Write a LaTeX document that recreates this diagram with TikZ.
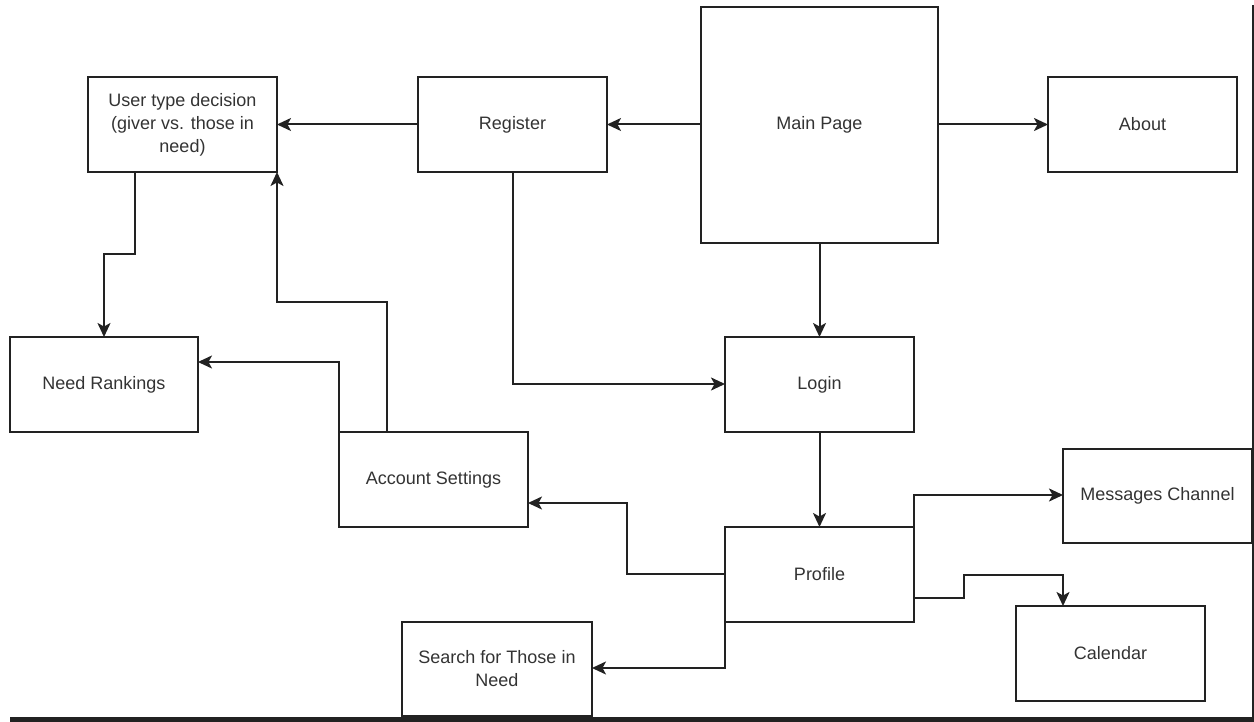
\documentclass[tikz,border=0pt]{standalone}
\usepackage{fontspec}
\setmainfont{Liberation Sans}
\usetikzlibrary{arrows.meta}
\definecolor{txt}{HTML}{333333}
\definecolor{ln}{HTML}{222222}
\begin{document}
\begin{tikzpicture}[x=1pt,y=-1pt,
  box/.style={draw=ln,line width=2pt,rectangle,inner sep=2pt,outer sep=0pt,align=center,
    font=\fontsize{18}{23}\selectfont,text=txt},
  conn/.style={draw=ln,line width=2pt,-{Stealth[length=14pt,width=13pt,inset=3.5pt]}}]
\useasboundingbox (0,0) rectangle (1254,722);
% frame details
\fill[ln] (10,716.5) rectangle (1254,722);
\draw[ln,line width=1.4pt] (1253,5) -- (1253,716.5);
% nodes: define by corners
\newcommand{\mybox}[6]{\node[box,minimum width={#4-#2},minimum height={#5-#3}] (#1) at ({(#2+#4)/2},{(#3+#5)/2}) {#6};}
\mybox{utd}{88}{77}{277}{172}{User type decision\\(giver vs. those in\\need)}
\mybox{reg}{418}{77}{607}{172}{Register}
\mybox{main}{701}{7}{938}{243}{Main Page}
\mybox{about}{1048}{77}{1237}{172}{About}
\mybox{login}{725}{337}{914}{432}{Login}
\mybox{need}{10}{337}{198}{432}{Need Rankings}
\mybox{acct}{339}{432}{528}{527}{Account Settings}
\mybox{prof}{725}{527}{914}{622}{Profile}
\mybox{msg}{1063}{449}{1252}{543}{Messages Channel}
\mybox{cal}{1016}{606}{1205}{701}{Calendar}
\mybox{srch}{402}{622}{592}{716}{Search for Those in\\Need}
% connectors
\draw[conn] (main.west |- reg.east) -- (reg.east);
\draw[conn] (reg.west) -- (utd.east);
\draw[conn] (main.east |- about.west) -- (about.west);
\draw[conn] (main.south) -- (login.north);
\draw[conn] (reg.south) |- (login.west |- 0,384);
\draw[conn] (login.south) -- (prof.north);
\coordinate (u1) at (135,172);
\draw[conn] (u1) -- (135,254) -- (104,254) -- (104,337);
\coordinate (a1) at (387,432);
\draw[conn] (a1) -- (387,302) -- (277,302) -- (utd.south east);
\draw[conn] (acct.north west) -- (339,362) -- (need.east |- 0,362);
\coordinate (p1) at (725,574);
\draw[conn] (p1) -- (627,574) -- (627,503) -- (acct.east |- 0,503);
\draw[conn] (prof.south west) -- (725,668) -- (srch.east |- 0,668);
\draw[conn] (prof.north east) -- (914,495) -- (msg.west |- 0,495);
\coordinate (p2) at (914,598);
\draw[conn] (p2) -- (964,598) -- (964,575) -- (1063,575) -- (cal.north -| 1063,0);
\end{tikzpicture}
\end{document}
